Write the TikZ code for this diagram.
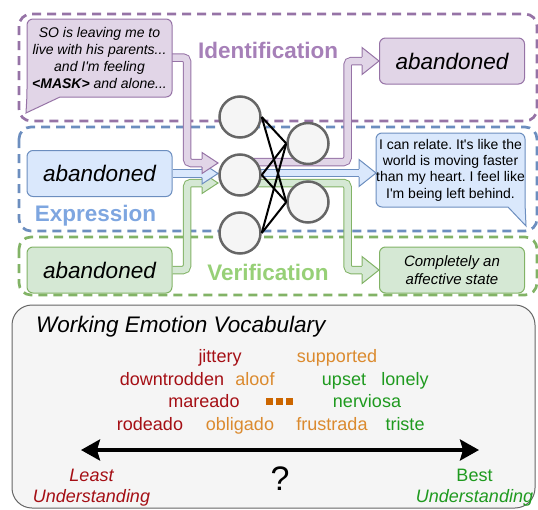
\documentclass[tikz,border=0pt]{standalone}
\usepackage{fontspec}
\setmainfont{Liberation Sans}
\frenchspacing
\usetikzlibrary{arrows.meta}
\definecolor{idline}{HTML}{9673A6}
\definecolor{idfill}{HTML}{E1D5E7}
\definecolor{idtext}{HTML}{A680B8}
\definecolor{exline}{HTML}{6C8EBF}
\definecolor{exfill}{HTML}{DAE8FC}
\definecolor{extext}{HTML}{7EA6E0}
\definecolor{veline}{HTML}{82B366}
\definecolor{vefill}{HTML}{D5E8D4}
\definecolor{vetext}{HTML}{97D077}
\definecolor{unitline}{HTML}{666666}
\definecolor{unitfill}{HTML}{F5F5F5}
\definecolor{lowword}{HTML}{A50F15}
\definecolor{midword}{HTML}{DB8A2E}
\definecolor{dotword}{HTML}{CC6600}
\definecolor{highword}{HTML}{1F9A1F}
\newcommand{\fsz}[2]{\fontsize{#1}{#2}\selectfont}
% head of a flat arrow: tip, length, half width, colour prefix
\newcommand{\flexhead}[4]{%
  \fill[#4fill] (#1) -- ++(-#2,-#3) -- ++(0,2*#3) -- cycle;
  \draw[#4line,line width=1pt] ([shift={(-#2,-4.2)}]#1) -- ++(0,4.2-#3) -- (#1) -- ++(-#2,#3) -- ++(0,4.2-#3);}

\begin{document}
\begin{tikzpicture}[x=1pt,y=-1pt]
\tikzset{
  zone/.style={draw=#1line, line width=2.7pt, dash pattern=on 9pt off 6pt, rounded corners=12pt},
  box/.style={draw=#1line, fill=#1fill, line width=1pt, rounded corners=6pt,
    minimum width=145pt, minimum height=46pt, inner sep=0pt},
  band/.style={draw=#1line, double=#1fill, line width=1pt, double distance=6.5pt, rounded corners=4pt},
  zonelabel/.style={text=#1text, font=\bfseries\fsz{22.5}{27}, anchor=base},
  unit/.style={circle, draw=unitline, fill=unitfill, line width=2.5pt, minimum size=41pt, inner sep=0pt},
  link/.style={line width=2pt},
  word/.style={text=#1word, font=\fsz{18}{22}, anchor=base, inner sep=0pt},
}
\useasboundingbox (0,0) rectangle (538,509);
\clip (0,0) rectangle (538,509);

% task zones
\draw[zone=id] (19,14) rectangle (537,121);
\draw[zone=ex] (19,127) rectangle (537,231);
\draw[zone=ve] (19,237) rectangle (537,295);

% anchors for the flat arrows
\coordinate (postexit) at (171,57.5);
\coordinate (idintip) at (218,163);
\coordinate (exintip) at (218,173.5);
\coordinate (veintip) at (218,183);
\coordinate (idsrc) at (245,162);
\coordinate (exsrc) at (245,173);
\coordinate (vesrc) at (245,183);
\coordinate (replyin) at (376,173);

\node[box=ex, font=\itshape\fsz{22.5}{27}] (exin) at (99.5,173.5) {abandoned};
\node[box=ve, font=\itshape\fsz{22.5}{27}] (vein) at (99.5,270) {abandoned};
\node[box=id, font=\itshape\fsz{22.5}{27}] (idout) at (452,61) {abandoned};
\node[box=ve, font=\itshape\fsz{15}{18.5}, align=center] (veout) at (452,270) {Completely an\\affective state};

% inputs
\draw[band=ve] (vein.east) -| ([xshift=-31pt]veintip) -- ([xshift=-15pt]veintip);
\flexhead{veintip}{16}{10.5}{ve}
\draw[band=ex] (exin.east) -- ([xshift=-15pt]exintip);
\flexhead{exintip}{16}{10.5}{ex}
\draw[band=id] (postexit) -| ([xshift=-31pt]idintip) -- ([xshift=-15pt]idintip);
\flexhead{idintip}{16}{10.5}{id}

% outputs
\draw[band=id] (idsrc) -| ([xshift=-31.5pt]idout.west) -- ([xshift=-16pt]idout.west);
\flexhead{idout.west}{17}{13.5}{id}
\draw[band=ex] (exsrc) -- ([xshift=-16pt]replyin);
\flexhead{replyin}{17}{13.5}{ex}
\draw[band=ve] (vesrc) -| ([xshift=-31.5pt]veout.west) -- ([xshift=-16pt]veout.west);
\flexhead{veout.west}{17}{13.5}{ve}

% speech bubbles
\draw[idline, fill=idfill, line width=1pt] (26,113) -- (60,97) [rounded corners=6pt] -- (172,97)
  -- (172,19) -- (27,19) -- (27,95) [sharp corners] -- cycle;
\node[font=\itshape\fsz{14}{16.7}, align=center] (post) at (99.5,58)
  {SO is leaving me to\\live with his parents...\\and I\textquotesingle m feeling\\\textbf{<MASK>} and alone...};
\draw[exline, fill=exfill, line width=1pt] (508,207) [rounded corners=6pt] -- (376,207)
  -- (376,133) -- (525,133) -- (525,203) [sharp corners] -- (526,226) -- cycle;
\node[font=\fsz{14}{16.4}, align=center] (reply) at (450.5,170)
  {I can relate. It\textquotesingle s like the\\world is moving faster\\than my heart. I feel like\\I\textquotesingle m being left behind.};

% network
\node[unit] (h1) at (240,117) {};
\node[unit] (h2) at (240,175) {};
\node[unit] (h3) at (240,233) {};
\node[unit] (o1) at (308,143.5) {};
\node[unit] (o2) at (308,202) {};
\foreach \a in {h1,h2,h3}
  \foreach \b in {o1,o2}
    \draw[link] (\a.east) -- (\b.west);

\node[zonelabel=id] (idlabel) at (268,58.5) {Identification};
\node[zonelabel=ex] (exlabel) at (95.5,221) {Expression};
\node[zonelabel=ve] (velabel) at (268,280.5) {Verification};

% vocabulary
\draw[draw=unitline, fill=unitfill, line width=1pt, rounded corners=20pt] (12,305) rectangle (535,508);
\node[font=\itshape\fsz{22.5}{27}, anchor=base west, inner sep=0pt] (title) at (36,332) {Working Emotion Vocabulary};

\node[word=low] (jittery) at (220,362.5) {jittery};
\node[word=mid] (supported) at (337,362.5) {supported};
\node[word=low] (downtrodden) at (172,385) {downtrodden};
\node[word=mid] (aloof) at (255,385) {aloof};
\node[word=high] (upset) at (344,385) {upset};
\node[word=high] (lonely) at (405,385) {lonely};
\node[word=low] (mareado) at (204,407.5) {mareado};
\node[word=high] (nerviosa) at (367,407.5) {nerviosa};
\node[word=low] (rodeado) at (150,430.5) {rodeado};
\node[word=mid] (obligado) at (240,430.5) {obligado};
\node[word=mid] (frustrada) at (332,430.5) {frustrada};
\node[word=high] (triste) at (405,430.5) {triste};
\foreach \i in {0,1,2}
  \fill[dotword] (266+\i*10,398) rectangle ++(7,7);

\coordinate (leastend) at (81,450);
\coordinate (bestend) at (479,450);
\draw[line width=3.5pt, {Stealth[length=19pt,width=21pt,inset=3pt]}-{Stealth[length=19pt,width=21pt,inset=3pt]}]
  (leastend) -- (bestend);
\node[font=\fsz{34}{40}, anchor=base, inner sep=0pt] (ask) at (280,490) {?};

\node[word=low, font=\itshape\fsz{18}{22}] (least) at (91.5,481.5) {Least};
\node[word=low, font=\itshape\fsz{18}{22}] (leastb) at (91.5,502.5) {Understanding};
\node[word=high] (best) at (474.5,481.5) {Best};
\node[word=high, font=\itshape\fsz{18}{22}] (bestb) at (474.5,502.5) {Understanding};
\end{tikzpicture}
\end{document}
